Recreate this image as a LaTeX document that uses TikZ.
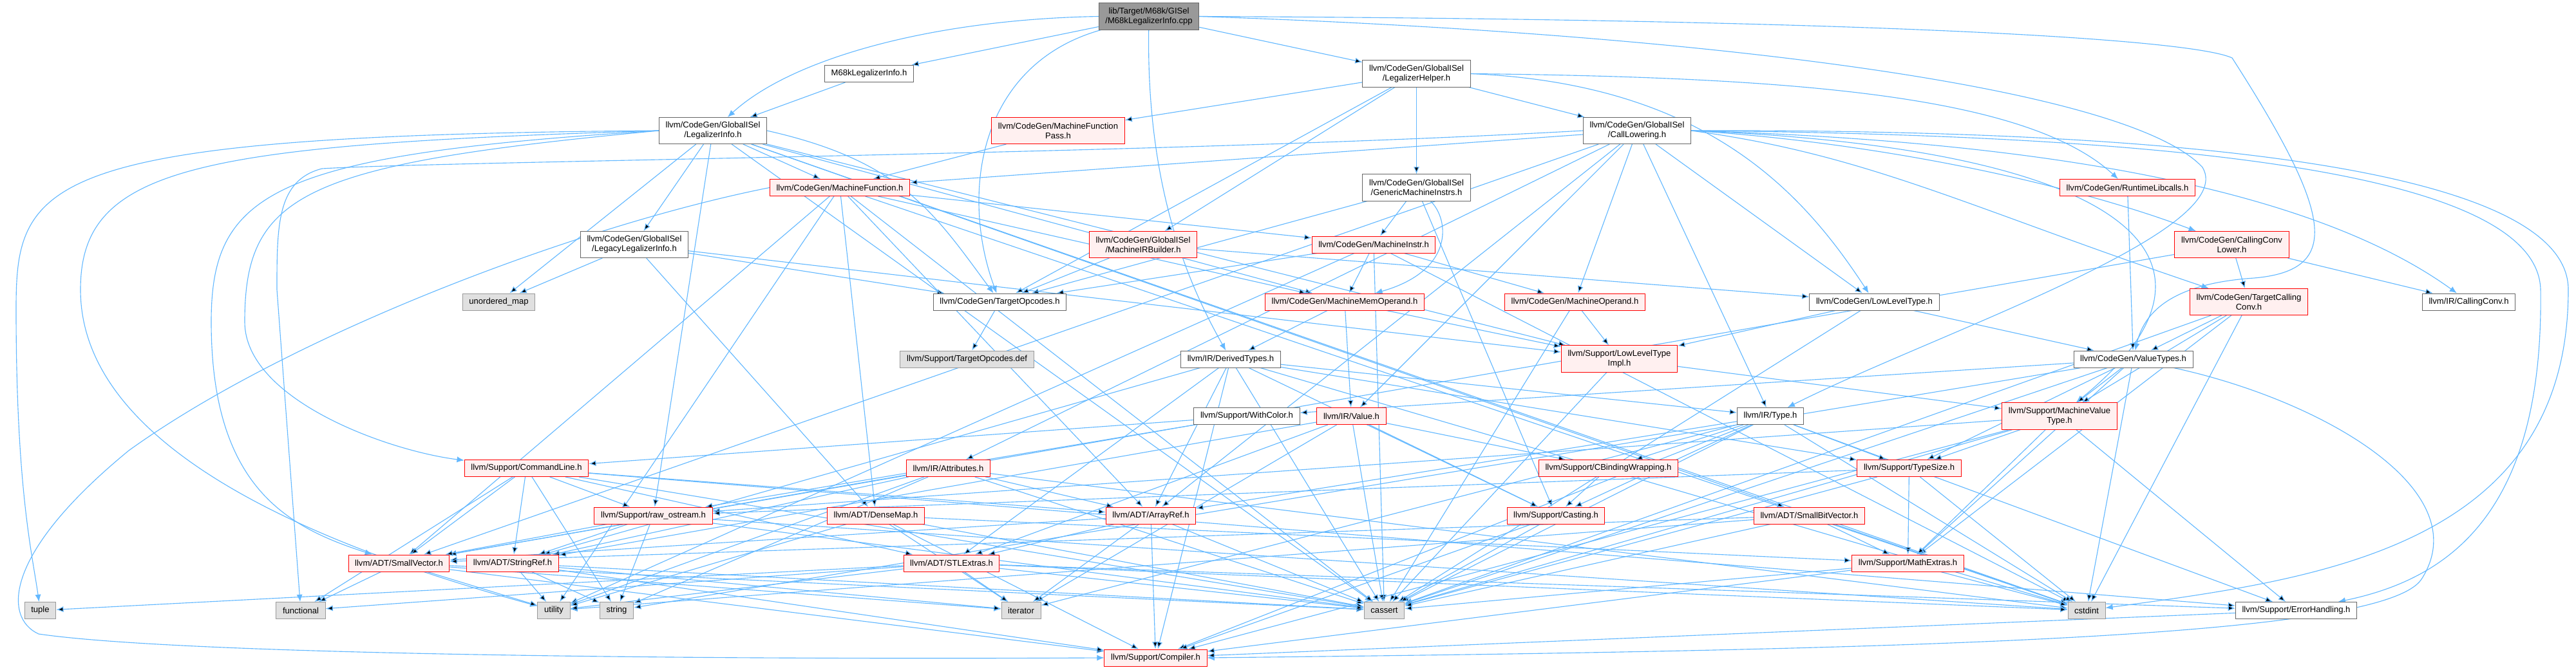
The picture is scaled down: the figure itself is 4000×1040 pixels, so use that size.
\documentclass[tikz,border=0pt]{standalone}
\usepackage{fontspec}
\setmainfont{Liberation Sans}
\usetikzlibrary{arrows.meta,backgrounds}
\definecolor{edgeblue}{HTML}{63B8FF}
\definecolor{truncfill}{HTML}{FFF0F0}
\definecolor{sysfill}{HTML}{E0E0E0}
\newcommand{\dxfont}{\fontsize{9.3}{10.7}\selectfont}
\tikzset{
  file/.style={draw=black!60, fill=white, line width=0.7pt, inner xsep=7.2pt, inner ysep=3pt,
    minimum height=18.5pt, align=center, font=\dxfont},
  trunc/.style={file, draw=red, fill=truncfill},
  sys/.style={file, draw=black!40, fill=sysfill},
  srcfile/.style={file, fill=black!40},
  twoline/.style={minimum height=29.2pt},
  dep/.style={-{Latex[length=2.8mm,width=2.3mm]}, draw=edgeblue, line width=0.8pt},
}
\begin{document}
\begin{tikzpicture}[x=0.025cm, y=-0.025cm]
    \useasboundingbox (0,0) rectangle (4000,1040);

    % --- rank 0-4: GlobalISel headers ---
    \node[srcfile, twoline] (root) at (1784,25.5) {lib/Target/M68k/GISel\\/M68kLegalizerInfo.cpp};
    \node[file] (m68kli) at (1349.5,114.5) {M68kLegalizerInfo.h};
    \node[file, twoline] (lh) at (2199.5,114.5) {llvm/CodeGen/GlobalISel\\/LegalizerHelper.h};
    \node[file, twoline] (li) at (1107,203) {llvm/CodeGen/GlobalISel\\/LegalizerInfo.h};
    \node[trunc, twoline] (mfp) at (1643,203) {llvm/CodeGen/MachineFunction\\Pass.h};
    \node[file, twoline] (cl) at (2542,203) {llvm/CodeGen/GlobalISel\\/CallLowering.h};
    \node[trunc] (mf) at (1304,291.5) {llvm/CodeGen/MachineFunction.h};
    \node[file, twoline] (gmi) at (2199.5,291.5) {llvm/CodeGen/GlobalISel\\/GenericMachineInstrs.h};
    \node[trunc] (rtl) at (3303.5,291.5) {llvm/CodeGen/RuntimeLibcalls.h};
    \node[file, twoline] (llli) at (985,380) {llvm/CodeGen/GlobalISel\\/LegacyLegalizerInfo.h};
    \node[trunc, twoline] (mirb) at (1775,380) {llvm/CodeGen/GlobalISel\\/MachineIRBuilder.h};
    \node[trunc] (mi) at (2133,380) {llvm/CodeGen/MachineInstr.h};
    \node[trunc, twoline] (ccl) at (3465.5,380) {llvm/CodeGen/CallingConv\\Lower.h};

    % --- rank 5-7: CodeGen / IR headers ---
    \node[sys] (umap) at (774.5,469) {unordered\_map};
    \node[file] (tgtop) at (1552.5,469) {llvm/CodeGen/TargetOpcodes.h};
    \node[trunc] (mmo) at (2088,469) {llvm/CodeGen/MachineMemOperand.h};
    \node[trunc] (mo) at (2445.5,469) {llvm/CodeGen/MachineOperand.h};
    \node[file] (llt) at (2910.5,469) {llvm/CodeGen/LowLevelType.h};
    \node[trunc, twoline] (tcc) at (3492,469) {llvm/CodeGen/TargetCalling\\Conv.h};
    \node[file] (irccc) at (3833.5,469) {llvm/IR/CallingConv.h};
    \node[sys] (tgdef) at (1501.5,558) {llvm/Support/TargetOpcodes.def};
    \node[file] (dt) at (1911,558) {llvm/IR/DerivedTypes.h};
    \node[trunc, twoline] (lltimpl) at (2514.5,557.5) {llvm/Support/LowLevelType\\Impl.h};
    \node[file] (vt) at (3312.5,558) {llvm/CodeGen/ValueTypes.h};
    \node[file] (wc) at (1936,646.5) {llvm/Support/WithColor.h};
    \node[trunc] (val) at (2098.5,646.5) {llvm/IR/Value.h};
    \node[file] (type) at (2749,646.5) {llvm/IR/Type.h};
    \node[trunc, twoline] (mvt) at (3198,646.5) {llvm/Support/MachineValue\\Type.h};

    % --- rank 8-12: Support / ADT headers ---
    \node[trunc] (cmd) at (817.5,727.5) {llvm/Support/CommandLine.h};
    \node[trunc] (attr) at (1472.5,727.5) {llvm/IR/Attributes.h};
    \node[trunc] (cbw) at (2497.5,727.5) {llvm/Support/CBindingWrapping.h};
    \node[trunc] (ts) at (2964.5,727.5) {llvm/Support/TypeSize.h};
    \node[trunc] (raw) at (1014.5,801) {llvm/Support/raw\_ostream.h};
    \node[trunc] (dm) at (1360,801) {llvm/ADT/DenseMap.h};
    \node[trunc] (ar) at (1787,801) {llvm/ADT/ArrayRef.h};
    \node[trunc] (cast) at (2416,801) {llvm/Support/Casting.h};
    \node[trunc] (sbv) at (2809.5,801) {llvm/ADT/SmallBitVector.h};
    \node[trunc] (sv) at (619.5,875) {llvm/ADT/SmallVector.h};
    \node[trunc] (sr) at (796,875) {llvm/ADT/StringRef.h};
    \node[trunc] (stl) at (1477.5,875) {llvm/ADT/STLExtras.h};
    \node[trunc] (math) at (2962.5,875) {llvm/Support/MathExtras.h};
    \node[sys] (tuple) at (62.5,948.5) {tuple};
    \node[sys] (functional) at (467,948.5) {functional};
    \node[sys] (utility) at (860,948.5) {utility};
    \node[sys] (str) at (957.5,948.5) {string};
    \node[sys] (iterator) at (1585.5,948.5) {iterator};
    \node[sys] (cassert) at (2149.5,948.5) {cassert};
    \node[sys] (cstdint) at (3240,948.5) {cstdint};
    \node[file] (eh) at (3565.5,948.5) {llvm/Support/ErrorHandling.h};
    \node[trunc] (comp) at (1794.5,1022) {llvm/Support/Compiler.h};

    \begin{scope}[on background layer]
    % --- M68kLegalizerInfo.cpp ---
    \path[dep] (root) edge (m68kli) edge (lh);
    \draw[dep] (root.west) .. controls (1450,30) and (1230,90) .. (li);
    \draw[dep] (root) .. controls (1520,100) and (1490,300) .. (tgtop);
    \draw[dep] (root) .. controls (1780,300) and (1850,450) .. (dt);
    \draw[dep] (root.east) .. controls (2600,50) and (3300,130) .. (3420,260) .. controls (3480,360) and (3000,520) .. (type);
    \draw[dep] (root.east) .. controls (2900,30) and (3400,60) .. (3466,90) .. controls (3620,330) and (3640,420) .. (3500,432) .. controls (3380,440) and (3330,480) .. (vt);
    \path[dep] (m68kli) edge (li);

    % --- LegalizerInfo.h ---
    \path[dep] (li) edge (umap) edge (llli) edge (mf) edge (mmo) edge (sbv) edge (lltimpl) edge (raw) edge (cassert) edge (cstdint);
    \draw[dep] (li.east) .. controls (1400,250) and (1450,330) .. (tgtop);
    \draw[dep] (li.west) .. controls (60,210) and (25,280) .. (25,480) .. controls (25,760) and (50,860) .. (tuple);
    \draw[dep] (li.west) .. controls (300,225) and (125,260) .. (125,450) .. controls (125,700) and (500,850) .. (utility);
    \draw[dep] (li.west) .. controls (420,240) and (328,300) .. (328,500) .. controls (328,760) and (450,820) .. (sv);
    \draw[dep] (li.west) .. controls (470,255) and (380,300) .. (380,500) .. controls (380,620) and (600,700) .. (cmd);

    % --- LegalizerHelper.h ---
    \path[dep] (lh) edge (cl) edge (gmi) edge (mirb) edge (mfp) edge (tgtop);
    \draw[dep] (lh.east) .. controls (2800,120) and (3150,150) .. (rtl);
    \draw[dep] (lh.east) .. controls (2650,130) and (2800,300) .. (llt);

    % --- CallLowering.h ---
    \path[dep] (cl) edge (mf) edge (mo) edge (llt) edge (type) edge (val) edge (attr) edge (ar) edge (sv);
    \draw[dep] (cl.east) .. controls (2900,220) and (3200,280) .. (ccl);
    \draw[dep] (cl.east) .. controls (3200,220) and (3600,300) .. (irccc);
    \draw[dep] (cl.east) .. controls (2900,240) and (3050,320) .. (tcc);
    \draw[dep] (cl.east) .. controls (3300,230) and (3500,400) .. (mvt);
    \draw[dep] (cl.east) .. controls (3400,210) and (3940,270) .. (3945,450) .. controls (3950,800) and (3800,900) .. (eh);
    \draw[dep] (cl.east) .. controls (3500,200) and (3988,280) .. (3988,450) .. controls (3988,850) and (3600,900) .. (cstdint);
    \draw[dep] (cl.west) .. controls (1800,240) and (700,250) .. (500,262) .. controls (430,280) and (430,350) .. (430,450) -- (functional);

    % --- GlobalISel helpers ---
    \path[dep] (gmi) edge (mi) edge (tgtop) edge (cast);
    \draw[dep] (gmi) .. controls (2250,340) and (2260,420) .. (mmo);
    \path[dep] (mfp) edge (mf);
    \path[dep] (llli) edge (umap) edge (tgtop) edge (dm) edge (lltimpl);
    \path[dep] (mirb) edge (tgtop) edge (llt);
    \path[dep] (tgtop) edge (tgdef);

    % --- MachineFunction.h ---
    \path[dep] (mf) edge (ar) edge (dm) edge (sv) edge (mi) edge (mmo) edge (cassert) edge (cstdint) edge (utility);
    \draw[dep] (mf.west) .. controls (900,350) and (450,520) .. (200,700) .. controls (5,860) and (5,960) .. (60,985) .. controls (300,1020) and (1200,1025) .. (comp.west);

    % --- CodeGen headers ---
    \path[dep] (mi) edge (mmo) edge (mo) edge (tgtop) edge (cassert) edge (cstdint) edge (utility);
    \path[dep] (rtl) edge (vt);
    \path[dep] (ccl) edge (tcc) edge (irccc) edge (sv);
    \path[dep] (mmo) edge (dt) edge (val) edge (lltimpl);
    \path[dep] (mo) edge (lltimpl) edge (cassert);
    \path[dep] (llt) edge (vt) edge (lltimpl) edge (cassert);
    \path[dep] (tcc) edge (vt) edge (mvt) edge (math) edge (cassert) edge (cstdint);
    \path[dep] (vt) edge (mvt) edge (ts) edge (math) edge (wc) edge (cassert) edge (cstdint) edge (str);
    \draw[dep] (vt) .. controls (3600,620) and (3850,760) .. (3760,900) .. controls (3700,990) and (3000,1010) .. (comp.east);

    % --- IR headers ---
    \path[dep] (dt) edge (ar) edge (stl) edge (sr) edge (type) edge (cast) edge (comp) edge (ts) edge (cassert) edge (cstdint);
    \path[dep] (lltimpl) edge (mvt) edge (cassert);
    \path[dep] (wc) edge (cmd) edge (raw);
    \path[dep] (val) edge (stl) edge (sr) edge (cbw) edge (cast) edge (cassert) edge (iterator);
    \path[dep] (type) edge (ar) edge (cbw) edge (cast) edge (comp) edge (eh) edge (ts) edge (cassert) edge (cstdint) edge (iterator);
    \path[dep] (mvt) edge (ts) edge (comp) edge (eh) edge (math) edge (raw) edge (cassert);

    % --- Support / ADT headers ---
    \path[dep] (cmd) edge (ar) edge (stl) edge (sv) edge (sr) edge (eh) edge (raw) edge (cassert) edge (functional) edge (str);
    \path[dep] (attr) edge (ar) edge (sv) edge (sr) edge (cassert) edge (cstdint) edge (str) edge (utility);
    \path[dep] (cbw) edge (cast);
    \path[dep] (ts) edge (math) edge (raw) edge (cassert) edge (cstdint);
    \path[dep] (raw) edge (sv) edge (sr) edge (cassert) edge (cstdint) edge (str);
    \path[dep] (dm) edge (comp) edge (math) edge (cassert) edge (iterator) edge (utility);
    \path[dep] (ar) edge (sv) edge (stl) edge (comp) edge (cassert) edge (iterator);
    \path[dep] (cast) edge (comp) edge (cassert);
    \path[dep] (sbv) edge (sv) edge (math) edge (cassert) edge (cstdint) edge (utility);
    \path[dep] (sv) edge (comp) edge (cassert) edge (functional) edge (iterator) edge (utility);
    \path[dep] (sr) edge (comp) edge (cassert) edge (iterator) edge (str) edge (utility);
    \path[dep] (stl) edge (eh) edge (cassert) edge (cstdint) edge (functional) edge (iterator) edge (tuple) edge (utility);
    \path[dep] (math) edge (comp) edge (cassert) edge (cstdint);
    \path[dep] (eh) edge (comp);
    \end{scope}
\end{tikzpicture}
\end{document}
